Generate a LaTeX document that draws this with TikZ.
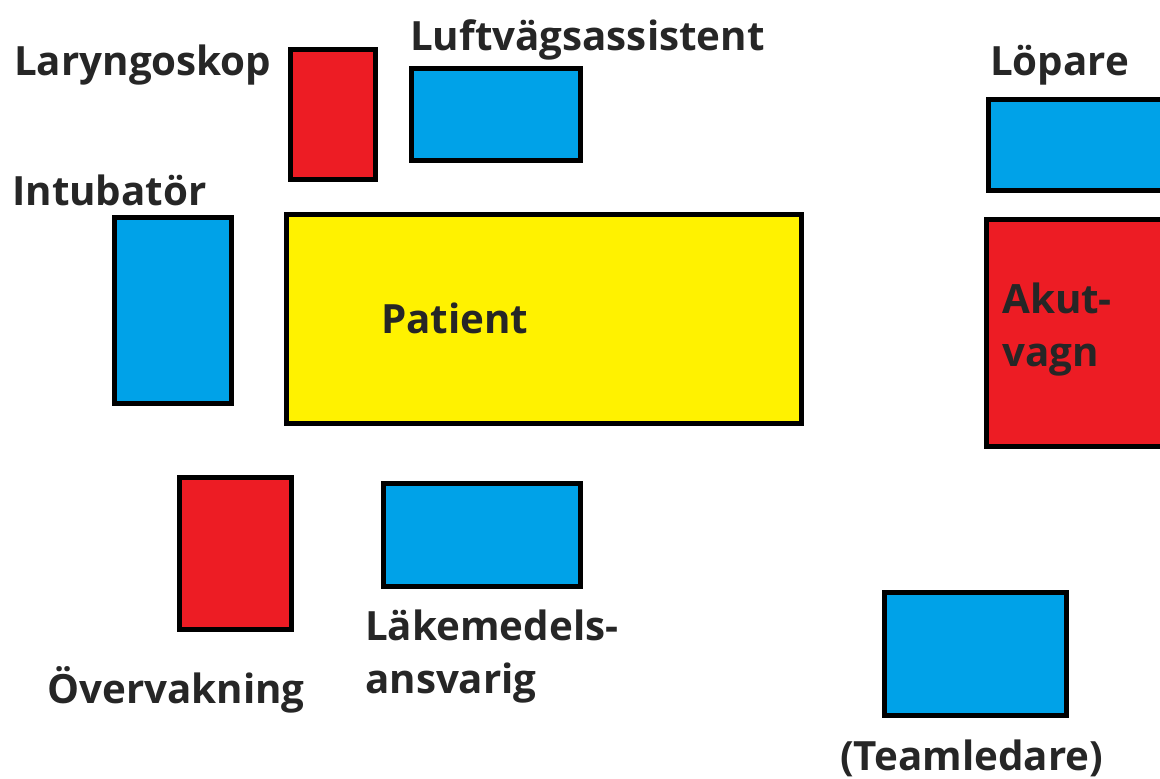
\documentclass[tikz,border=0pt]{standalone}
\usepackage{fontspec}
\setmainfont{Open Sans}
\definecolor{boxred}{HTML}{ED1C24}
\definecolor{boxblue}{HTML}{00A2E8}
\definecolor{boxyellow}{HTML}{FFF200}
\definecolor{txt}{HTML}{262626}
\begin{document}
\begin{tikzpicture}[x=1pt,y=-1pt,
  box/.style={draw=black,line width=5pt,rectangle,inner sep=0pt},
  rbox/.style={box,fill=boxred},
  bbox/.style={box,fill=boxblue},
  ybox/.style={box,fill=boxyellow},
  lbl/.style={anchor=base west,inner sep=0pt,text=txt,font=\fontsize{40.3}{53}\selectfont\bfseries}]
\useasboundingbox (0,0) rectangle (1160,779);
% boxes
\node[rbox,minimum width=85pt,minimum height=130pt] (laryngoskop) at (333,114.5) {};
\node[bbox,minimum width=169pt,minimum height=92pt] (luftvag) at (496,114.5) {};
\node[bbox,minimum width=117pt,minimum height=186pt] (intubator) at (173,310.5) {};
\node[ybox,minimum width=515pt,minimum height=209pt] (patient) at (544,319) {};
\node[bbox,minimum width=179pt,minimum height=91pt] (lopare) at (1078,145) {};
\node[rbox,minimum width=181pt,minimum height=227pt] (akutvagn) at (1077,333) {};
\node[rbox,minimum width=112pt,minimum height=152pt] (overvakning) at (235.5,553.5) {};
\node[bbox,minimum width=197pt,minimum height=103pt] (lakemedel) at (482,535) {};
\node[bbox,minimum width=182pt,minimum height=123pt] (teamledare) at (975.5,654) {};
% labels
\node[lbl] (tLaryngoskop) at (14,75) {Laryngoskop};
\node[lbl] (tLuft) at (410,50) {Luftvägsassistent};
\node[lbl] (tIntub) at (12,205) {Intubatör};
\node[lbl] (tLopare) at (990,75) {Löpare};
\node[lbl] (tPatient) at (381,333) {Patient};
\node[lbl] (tAkut1) at (1002,313) {Akut-};
\node[lbl] (tAkut2) at (1002,366) {vagn};
\node[lbl] (tOverv) at (47,703) {Övervakning};
\node[lbl] (tLak1) at (365,640) {Läkemedels-};
\node[lbl] (tLak2) at (365,693) {ansvarig};
\node[lbl] (tTeam) at (840,770) {(Teamledare)};
\end{tikzpicture}
\end{document}
